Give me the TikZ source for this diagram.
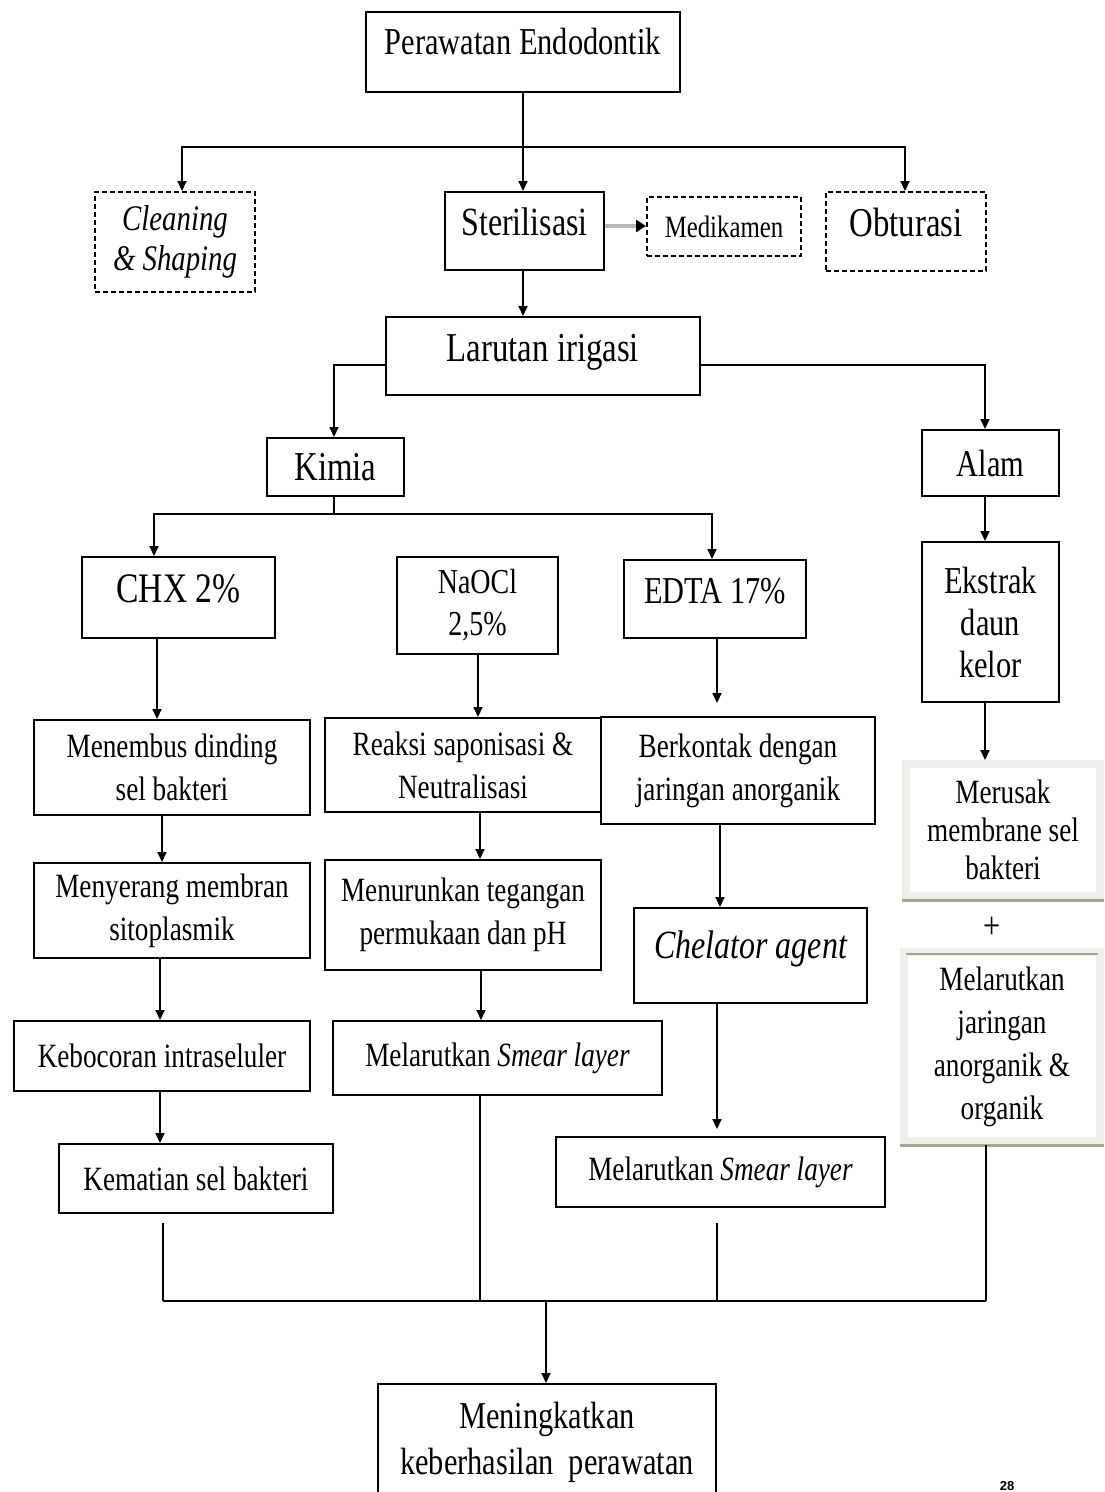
\documentclass[tikz,border=0pt]{standalone}
\usepackage{fontspec}
\setmainfont{Liberation Serif}[FakeStretch=0.8]
\newfontfamily\pgnumfont{Liberation Sans}
\usetikzlibrary{arrows.meta,calc}
\definecolor{shadegray}{RGB}{236,239,234}
\definecolor{greenline}{RGB}{160,168,144}
\begin{document}
\begin{tikzpicture}[x=1pt,y=-1pt,
  box/.style={draw,line width=2pt,fill=white,inner sep=0pt,align=center},
  dbox/.style={box,dash pattern=on 5pt off 3pt},
  ln/.style={line width=2pt},
  arr/.style={ln,-{Triangle[length=10pt,width=9pt]}},
  mfont/.style={font=\fontsize{34}{43}\selectfont},
]
\useasboundingbox[fill=white] (0,0) rectangle (1104,1492);

% top level
\node[box,font=\fontsize{38}{42}\selectfont,minimum width=314pt,minimum height=80pt,text depth=22pt] (per) at (523,52) {Perawatan Endodontik};
\node[dbox,font=\fontsize{36}{40}\selectfont\itshape,minimum width=160pt,minimum height=100pt] (clean) at (175,242) {Cleaning\\\& Shaping};
\node[box,font=\fontsize{40}{44}\selectfont,minimum width=159pt,minimum height=78pt,text depth=18pt] (ster) at (524.5,231) {Sterilisasi};
\node[dbox,font=\fontsize{31}{36}\selectfont,minimum width=154pt,minimum height=59pt] (med) at (724,226.5) {Medikamen};
\node[dbox,font=\fontsize{41}{44}\selectfont,minimum width=160pt,minimum height=79pt,text depth=18pt] (obt) at (906,231.5) {Obturasi};

\node[box,font=\fontsize{41}{44}\selectfont,minimum width=314pt,minimum height=78pt,text depth=16pt] (lar) at (543,356) {Larutan irigasi};
\node[box,font=\fontsize{41}{44}\selectfont,minimum width=137pt,minimum height=58pt] (kim) at (335.5,467) {Kimia};
\node[box,font=\fontsize{38}{42}\selectfont,minimum width=137pt,minimum height=66pt] (alam) at (990.5,463) {Alam};

% third level
\node[box,font=\fontsize{42}{44}\selectfont,minimum width=193pt,minimum height=81pt,text depth=18pt] (chx) at (178.5,597.5) {CHX 2\%};
\node[box,font=\fontsize{35}{42}\selectfont,minimum width=161pt,minimum height=97pt] (nao) at (477.5,605.5) {NaOCl\\2,5\%};
\node[box,font=\fontsize{38}{42}\selectfont,minimum width=182pt,minimum height=78pt,text depth=16pt] (edta) at (715,599) {EDTA 17\%};
\node[box,font=\fontsize{38}{42}\selectfont,minimum width=137pt,minimum height=160pt] (eks) at (990.5,622) {Ekstrak\\daun\\kelor};

% CHX column
\node[box,mfont,minimum width=276pt,minimum height=95pt] (men) at (172,767.5) {Menembus dinding\\sel bakteri};
\node[box,mfont,minimum width=276pt,minimum height=95pt] (meny) at (172,910.5) {Menyerang membran\\sitoplasmik};
\node[box,mfont,minimum width=296pt,minimum height=70pt] (keb) at (162,1056) {Kebocoran intraseluler};
\node[box,mfont,minimum width=274pt,minimum height=69pt] (kem) at (196,1178.5) {Kematian sel bakteri};

% NaOCl column
\node[box,mfont,minimum width=276pt,minimum height=94pt] (rea) at (463,765) {Reaksi saponisasi \&\\Neutralisasi};
\node[box,mfont,minimum width=276pt,minimum height=110pt] (menu) at (463,915) {Menurunkan tegangan\\permukaan dan pH};
\node[box,mfont,minimum width=329pt,minimum height=74pt] (mel1) at (497.5,1058) {Melarutkan \textit{Smear layer}};

% EDTA column
\node[box,mfont,minimum width=274pt,minimum height=107pt] (ber) at (738,770.5) {Berkontak dengan\\jaringan anorganik};
\node[box,font=\fontsize{40}{44}\selectfont\itshape,minimum width=233pt,minimum height=95pt,text depth=22pt] (chel) at (750.5,955.5) {Chelator agent};
\node[box,mfont,minimum width=329pt,minimum height=70pt] (mel2) at (720.5,1172) {Melarutkan \textit{Smear layer}};

% Alam column
\node[draw=shadegray,line width=8pt,fill=white,inner sep=0pt,align=center,
      font=\fontsize{34}{38}\selectfont,minimum width=194pt,minimum height=132pt] (mer) at (1003,830) {Merusak\\membrane sel\\bakteri};
\draw[greenline,line width=3pt] (mer.south west) -- (mer.south east);
\node[font=\fontsize{38}{40}\selectfont,inner sep=0pt] (plus) at (992,928) {+};
\node[draw=shadegray,line width=8pt,fill=white,inner sep=0pt,align=center,
      font=\fontsize{34}{43}\selectfont,minimum width=196pt,minimum height=189pt] (mj) at (1002,1046.5) {Melarutkan\\jaringan\\anorganik \&\\organik};
\draw[greenline,line width=1.2pt] ([xshift=6pt,yshift=-6pt]mj.north west) -- ([xshift=-6pt,yshift=-6pt]mj.north east);
\draw[greenline,line width=3pt] (mj.south west) -- (mj.south east);

% final
\node[box,font=\fontsize{38}{46}\selectfont,minimum width=338pt,minimum height=116pt] (mening) at (547,1442) {Meningkatkan\\keberhasilan~ perawatan};
\node[font=\pgnumfont\bfseries\fontsize{13}{14}\selectfont,inner sep=0pt] (pg) at (1007,1486) {28};

% connectors: top
\coordinate (tj) at (523,147);
\draw[arr] (per.south) -- (per.south |- ster.north);
\draw[arr] (tj) -| (clean.north -| 182,0);
\draw[arr] (tj) -| (obt.north -| 905,0);
\draw[line width=4.5pt,gray!55,-{Triangle[length=10pt,width=12pt,black]}] (ster.east |- 0,226) -- (med.west |- 0,226);
\draw[arr] (ster.south -| 523,0) -- (lar.north -| 523,0);
\draw[arr] (lar.west |- 0,365) -| (kim.north -| 334,0);
\draw[arr] (lar.east |- 0,365) -| (alam.north -| 985,0);

% Kimia split
\coordinate (kj) at (334,514);
\draw[ln] (kim.south -| kj) -- (kj);
\draw[arr] (kj) -| (chx.north -| 154,0);
\draw[arr] (kj) -| (edta.north -| 712,0);
\draw[arr] (alam.south -| 985,0) -- (eks.north -| 985,0);

% columns
\draw[arr] (chx.south -| 157,0) -- (men.north -| 157,0);
\draw[arr] (men.south -| 162,0) -- (meny.north -| 162,0);
\draw[arr] (meny.south -| 160,0) -- (keb.north -| 160,0);
\draw[arr] (keb.south -| 160,0) -- (kem.north -| 160,0);

\draw[arr] (nao.south -| 478,0) -- (rea.north -| 478,0);
\draw[arr] (rea.south -| 480,0) -- (menu.north -| 480,0);
\draw[arr] (menu.south -| 481,0) -- (mel1.north -| 481,0);

\draw[arr,shorten >=13pt] (edta.south -| 717,0) -- (ber.north -| 717,0);
\draw[arr] (ber.south -| 720,0) -- (chel.north -| 720,0);
\draw[arr,shorten >=7pt] (chel.south -| 717,0) -- (mel2.north -| 717,0);

\draw[arr] (eks.south -| 985,0) -- (mer.north -| 985,0);

% bottom merge
\coordinate (bl) at (163,1301);
\coordinate (br) at (986,1301);
\coordinate (bj) at (546,1301);
\draw[ln,shorten <=9pt] (kem.south -| bl) -- (bl);
\draw[ln] (mel1.south -| 480,0) -- (bl -| 480,0);
\draw[ln,shorten <=15pt] (mel2.south -| 717,0) -- (bl -| 717,0);
\draw[ln] (mj.south -| br) -- (br);
\draw[ln] (bl) -- (br);
\draw[arr] (bj) -- (mening.north -| bj);
\end{tikzpicture}
\end{document}
